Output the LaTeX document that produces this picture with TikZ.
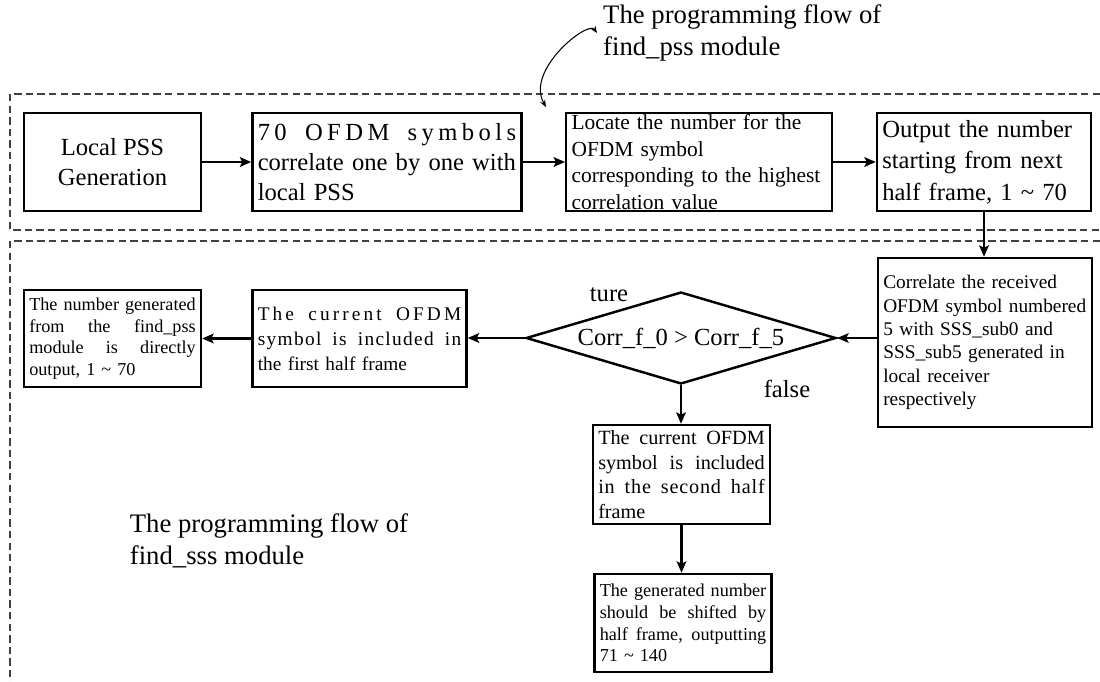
\documentclass[tikz,border=0pt]{standalone}
\usepackage{fontspec}
\setmainfont{Liberation Serif}
\usepackage{tikz}
\usetikzlibrary{arrows.meta,shapes.geometric}

\newlength{\fillw}
\newcommand{\fillline}[1]{\makebox[\fillw][s]{\spaceskip=0.25em plus 1fil\relax #1}}
\newcommand{\fbig}{\fontsize{14}{17}\selectfont}
\newcommand{\fout}{\fontsize{14}{18}\selectfont}
\newcommand{\fmid}{\fontsize{12.2}{15.2}\selectfont}
\newcommand{\fsmall}{\fontsize{11}{13.3}\selectfont}
\newcommand{\fhalf}{\fontsize{11}{14.2}\selectfont}
\newcommand{\fsec}{\fontsize{11.5}{13.9}\selectfont}
\newcommand{\ftiny}{\fontsize{10.35}{12.35}\selectfont}
\newcommand{\fcap}{\fontsize{15.2}{18.2}\selectfont}

\begin{document}
\begin{tikzpicture}[x=0.02cm, y=-0.02cm,
  >={Stealth[length=6.5pt,width=5.5pt,inset=1.4pt]},
  blk/.style={draw, line width=1.4pt, inner xsep=3pt, inner ysep=0pt, align=left},
  tw/.style={text width=#1, execute at begin node={\setlength{\fillw}{#1}}},
  link/.style={->, line width=1.3pt},
  grp/.style={draw=black!75, line width=0.6pt, dash pattern=on 4.2pt off 2.4pt}]
\useasboundingbox (0,0) rectangle (1100,682);

\draw[grp] (1100,94) -- (10,94) -- (10,230) -- (1100,230);
\draw[grp] (1100,241) -- (10,241) -- (10,682);

\node[blk, align=center, minimum width=3.54cm, minimum height=1.96cm, font=\fbig] (pssgen) at (112.5,162) {Local PSS\\Generation};
\node[blk, tw=5.17cm, minimum height=1.96cm, font=\fbig] (corrall) at (387,162)
  {\fillline{\addfontfeature{LetterSpace=18}70 OFDM symbols}\\correlate one by one with\\local PSS};
\node[blk, tw=5.1cm, minimum height=1.96cm, font=\fmid] (locate) at (699,162)
  {Locate the number for the\\OFDM symbol\\corresponding to the highest\\correlation value};
\node[blk, tw=4.07cm, minimum height=1.96cm, font=\fout] (output) at (984,162)
  {Output the number\\starting from next\\half frame, 1 \textasciitilde\ 70};

\node[blk, tw=4.07cm, minimum height=3.38cm, font=\fsmall] (correlate) at (985,342.5)
  {Correlate the received\\OFDM symbol numbered\\5 with SSS\_sub0 and\\SSS\_sub5 generated in\\local receiver\\respectively};
\node[draw, diamond, aspect=3.37, minimum width=6.2cm, minimum height=1.84cm, inner sep=0pt, line width=1.4pt, font=\fbig] (cmp) at (681,338)
  {Corr\_f\_0 > Corr\_f\_5};
\node[blk, tw=4.07cm, minimum height=1.94cm, font=\fhalf] (firsthalf) at (359.5,338.5)
  {\fillline{\addfontfeature{LetterSpace=16}The current OFDM}\\\fillline{\addfontfeature{LetterSpace=7}symbol is included in}\\the first half frame};
\node[blk, tw=3.33cm, minimum height=1.94cm, font=\ftiny] (directout) at (112.5,338.5)
  {\fillline{The number generated}\\\fillline{from the find\_pss}\\\fillline{module is directly}\\output, 1 \textasciitilde\ 70};
\node[blk, tw=3.33cm, minimum height=1.98cm, font=\fsec] (secondhalf) at (681.5,474.5)
  {\fillline{The current OFDM}\\\fillline{symbol is included}\\\fillline{\addfontfeature{LetterSpace=4}in the second half}\\frame};
\node[blk, tw=3.33cm, minimum height=1.96cm, font=\ftiny] (shifted) at (683,623)
  {\fillline{The generated number}\\\fillline{should be shifted by}\\\fillline{half frame, outputting}\\71 \textasciitilde\ 140};

\node[font=\fbig] (ture) at (609,295) {ture};
\node[font=\fbig] (false) at (787,389) {false};

\node[font=\fcap, align=left, anchor=west] (psscap) at (597,33) {The programming flow of\\find\_pss module};
\node[font=\fcap, align=left, anchor=west] (ssscap) at (123.7,541) {The programming flow of\\find\_sss module};
\coordinate (pssmark) at (546,107);

\draw[<->, line width=0.6pt, >={Stealth[length=4pt,width=3.2pt]}] (psscap.west) .. controls (588,20) and (525,70) .. (pssmark);

\draw[link] (pssgen) -- (corrall);
\draw[link] (corrall) -- (locate);
\draw[link] (locate) -- (output);
\draw[link] (output.south) -- (output.south |- correlate.north);
\draw[link] (correlate.west |- cmp.east) -- (cmp.east);
\draw[link] (cmp.west) -- (cmp.west -| firsthalf.east);
\draw[link] (firsthalf) -- (directout);
\draw[link] (cmp.south) -- (cmp.south |- secondhalf.north);
\draw[link] (secondhalf.south) -- (secondhalf.south |- shifted.north);

\end{tikzpicture}
\end{document}
